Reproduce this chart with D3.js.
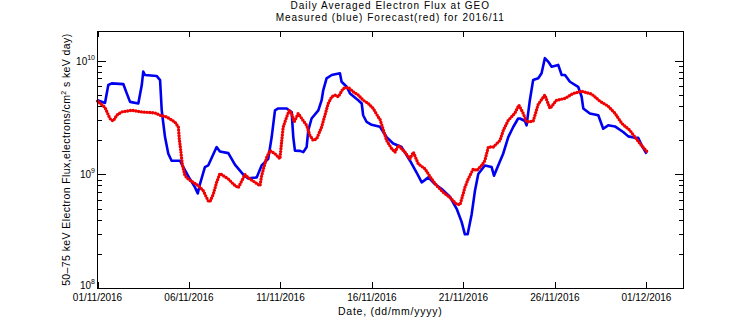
<!DOCTYPE html>
<html><head><meta charset="utf-8">
<script src="https://cdn.jsdelivr.net/npm/d3@7"></script>
<style>
body{margin:0;background:#fff}
svg{display:block}
text{font-family:"Liberation Sans",Arial,sans-serif;fill:#000}
</style>
</head><body>
<svg id="chart" width="756" height="324"></svg>
<script>
// ---- data (days since 01/11/2016 00:00 UTC, flux in electrons/cm2 s keV day) ----
const measuredDay = [0,0.41,0.59,0.78,1.41,1.60,1.78,2.23,2.42,2.50,2.60,3.23,3.42,3.51,3.69,3.87,4.05,4.51,4.69,5.05,5.33,5.48,5.60,5.87,6.05,6.51,6.69,7.15,7.51,7.97,8.24,8.70,8.97,9.33,9.52,9.70,9.88,10.34,10.61,10.70,10.79,11.07,11.25,11.43,11.52,11.70,12.07,12.25,12.34,12.52,12.80,13.25,13.34,13.62,13.80,14.25,14.44,14.52,14.71,14.98,15.44,15.62,15.80,16.16,16.62,16.90,17.08,17.44,17.72,18.08,18.44,18.81,19.26,19.63,19.90,20.08,20.23,20.45,20.63,20.81,21.17,21.54,21.67,21.90,22.17,22.45,22.72,22.99,23.09,23.36,23.45,23.63,23.81,24.09,24.27,24.45,24.63,24.82,25.18,25.37,25.55,25.82,26.27,26.46,26.55,26.91,27.37,27.64,27.91,28.28,28.73,29.01,29.37,29.55,29.74,30.01];
const measuredFlux = [4.49e9,4.25e9,6.10e9,6.31e9,6.22e9,5.15e9,4.34e9,4.20e9,6.10e9,8.0e9,7.47e9,7.33e9,6.75e9,3.66e9,2.13e9,1.52e9,1.32e9,1.32e9,1.16e9,9.12e8,7.69e8,6.81e8,8.24e8,1.16e9,1.20e9,1.74e9,1.59e9,1.54e9,1.22e9,9.96e8,9.24e8,9.42e8,1.20e9,1.37e9,2.13e9,3.66e9,3.80e9,3.80e9,3.54e9,2.13e9,1.62e9,1.61e9,1.57e9,1.74e9,2.44e9,3.10e9,3.66e9,4.49e9,5.51e9,6.99e9,7.47e9,7.74e9,6.52e9,5.89e9,5.15e9,4.49e9,4.20e9,3.31e9,2.89e9,2.73e9,2.62e9,2.36e9,2.13e9,1.87e9,1.74e9,1.47e9,1.32e9,1.04e9,8.51e8,9.42e8,8.24e8,7.45e8,6.37e8,4.99e8,3.83e8,2.98e8,2.98e8,4.48e8,7.19e8,1.01e9,1.20e9,1.16e9,9.75e8,1.20e9,1.52e9,2.13e9,2.61e9,3.10e9,3.10e9,2.95e9,2.70e9,4.49e9,6.75e9,6.99e9,7.74e9,1.05e10,9.80e9,8.85e9,9.16e9,7.47e9,7.47e9,6.52e9,5.89e9,4.81e9,3.80e9,3.43e9,3.31e9,2.52e9,2.70e9,2.64e9,2.36e9,2.16e9,2.10e9,2.10e9,1.80e9,1.52e9];
const forecastDay = [0,0.41,0.68,0.78,0.86,1.05,1.32,1.87,2.42,3.14,3.42,3.78,4.23,4.42,4.47,4.55,4.63,4.78,4.96,5.23,5.51,5.78,6.05,6.15,6.33,6.51,6.69,6.87,7.15,7.42,7.69,8.06,8.33,8.70,8.88,8.97,9.25,9.43,9.70,9.97,10.07,10.15,10.34,10.48,10.61,10.75,10.97,11.16,11.43,11.61,11.79,11.98,12.25,12.43,12.61,12.80,12.98,13.16,13.43,13.70,13.98,14.25,14.52,14.80,15.07,15.34,15.44,15.80,16.08,16.26,16.44,16.80,17.08,17.26,17.53,17.90,18.26,18.54,18.90,19.26,19.63,19.81,19.93,20.08,20.26,20.54,20.72,21.00,21.17,21.36,21.63,22.00,22.18,22.45,22.81,23.03,23.27,23.45,23.81,24.09,24.45,24.73,25.09,25.55,26.00,26.46,27.01,27.46,27.91,28.28,28.66,29.10,29.44,29.73,30.07];
const forecastFlux = [4.41e9,3.87e9,3.10e9,2.99e9,2.95e9,3.31e9,3.54e9,3.66e9,3.54e9,3.47e9,3.31e9,3.20e9,2.89e9,2.61e9,2.06e9,1.62e9,1.24e9,9.75e8,9.12e8,8.51e8,7.96e8,7.19e8,5.86e8,5.78e8,6.72e8,8.51e8,1.02e9,9.75e8,9.12e8,8.24e8,7.64e8,9.96e8,9.12e8,8.34e8,7.96e8,9.75e8,1.42e9,1.62e9,1.52e9,1.37e9,1.99e9,2.61e9,3.20e9,3.66e9,3.43e9,2.89e9,3.43e9,3.10e9,2.70e9,2.20e9,1.99e9,2.06e9,2.61e9,3.31e9,4.20e9,4.81e9,4.98e9,4.81e9,5.70e9,5.82e9,5.32e9,4.98e9,4.49e9,4.20e9,3.80e9,3.20e9,3.05e9,1.99e9,1.68e9,1.57e9,1.80e9,1.57e9,1.37e9,1.57e9,1.24e9,1.12e9,9.12e8,7.96e8,6.95e8,6.27e8,5.48e8,5.41e8,6.27e8,7.69e8,9.12e8,1.12e9,1.08e9,1.20e9,1.32e9,1.74e9,1.74e9,1.99e9,2.44e9,2.99e9,3.45e9,4.06e9,3.43e9,2.89e9,2.93e9,4.14e9,4.98e9,3.80e9,4.49e9,4.65e9,5.15e9,5.37e9,5.08e9,4.40e9,3.98e9,3.45e9,2.80e9,2.44e9,2.06e9,1.80e9,1.56e9];
const xTickLabels = ["01/11/2016","06/11/2016","11/11/2016","16/11/2016","21/11/2016","26/11/2016","01/12/2016"];
const yMajorTicks = [1e8, 1e9, 1e10];
const titleLines = ["Daily Averaged Electron Flux at GEO", "Measured (blue) Forecast(red) for 2016/11"];

// ---- layout ----
const L = 97.5, R = 683, T = 31, B = 288.3;
const t0 = Date.UTC(2016, 10, 1);
const toDate = d => new Date(t0 + d * 864e5);
const parseTick = d3.utcParse("%d/%m/%Y");

const svg = d3.select("#chart");
const x = d3.scaleUtc().domain([new Date(t0), new Date(Date.UTC(2016, 11, 3))]).range([L, R]);
const y = d3.scaleLog().domain([1e8, Math.pow(10, 10.26)]).range([B, T]);

// ---- data lines ----
const measured = measuredDay.map((d, i) => [toDate(d), measuredFlux[i]]);
const forecast = forecastDay.map((d, i) => [toDate(d), forecastFlux[i]]);
const line = d3.line().x(p => x(p[0])).y(p => y(p[1]));

const g = svg.append("g");
g.append("path").datum(measured).attr("d", line)
  .attr("fill", "none").attr("stroke", "#0000f0").attr("stroke-width", 2.6)
  .attr("stroke-linejoin", "round");
g.append("path").datum(forecast).attr("d", line)
  .attr("fill", "none").attr("stroke", "#f00000").attr("stroke-width", 3.4)
  .attr("stroke-linecap", "round").attr("stroke-dasharray", "0 2.8");

// ---- axes box and ticks (inward, MATLAB style) ----
const ax = svg.append("g").attr("stroke", "#000").attr("stroke-width", 1).attr("shape-rendering", "crispEdges");
ax.append("rect").attr("x", L).attr("y", T).attr("width", R - L).attr("height", B - T).attr("fill", "none");

const xTicks = xTickLabels.map(s => parseTick(s));
xTicks.forEach(dt => {
  const px = Math.round(x(dt)) + 0.5;
  ax.append("line").attr("x1", px).attr("x2", px).attr("y1", B).attr("y2", B - 6);
  ax.append("line").attr("x1", px).attr("x2", px).attr("y1", T).attr("y2", T + 6);
});

const allYTicks = y.ticks().filter(v => v >= 1e8 && y(v) >= T);
allYTicks.forEach(v => {
  const major = yMajorTicks.includes(v);
  const len = major ? 8 : 4.5;
  const py = Math.round(y(v)) + 0.5;
  ax.append("line").attr("x1", L).attr("x2", L + len).attr("y1", py).attr("y2", py);
  ax.append("line").attr("x1", R).attr("x2", R - len).attr("y1", py).attr("y2", py);
});

// ---- tick labels ----
const fmt = d3.utcFormat("%d/%m/%Y");
xTicks.forEach(dt => {
  svg.append("text").attr("x", x(dt)).attr("y", 300.5)
    .attr("text-anchor", "middle").attr("font-size", 10).text(fmt(dt));
});
yMajorTicks.forEach(v => {
  const e = Math.round(Math.log10(v));
  const t = svg.append("text").attr("x", 95).attr("y", Math.min(y(v) + 4, 289))
    .attr("text-anchor", "end").attr("font-size", 10);
  t.append("tspan").text("10");
  t.append("tspan").attr("font-size", 7).attr("dy", -5).text(e);
});

// ---- titles and labels ----
svg.append("text").attr("x", (L + R) / 2).attr("y", 9).attr("text-anchor", "middle")
  .attr("font-size", 10).attr("letter-spacing", 1).text(titleLines[0]);
svg.append("text").attr("x", (L + R) / 2).attr("y", 20.5).attr("text-anchor", "middle")
  .attr("font-size", 10).attr("letter-spacing", 1).text(titleLines[1]);
svg.append("text").attr("x", (L + R) / 2).attr("y", 315).attr("text-anchor", "middle")
  .attr("font-size", 10.5).attr("letter-spacing", 0.75).text("Date, (dd/mm/yyyy)");

const yl = svg.append("text").attr("transform", `translate(70,${(T + B) / 2}) rotate(-90)`)
  .attr("text-anchor", "middle").attr("font-size", 10.5).attr("letter-spacing", 0.4);
yl.append("tspan").text("50\u201375 keV Electron Flux,electrons/cm");
yl.append("tspan").attr("font-size", 7).attr("dy", -4).text("2");
yl.append("tspan").attr("dy", 4).text(" s keV day)");
</script>
</body></html>
